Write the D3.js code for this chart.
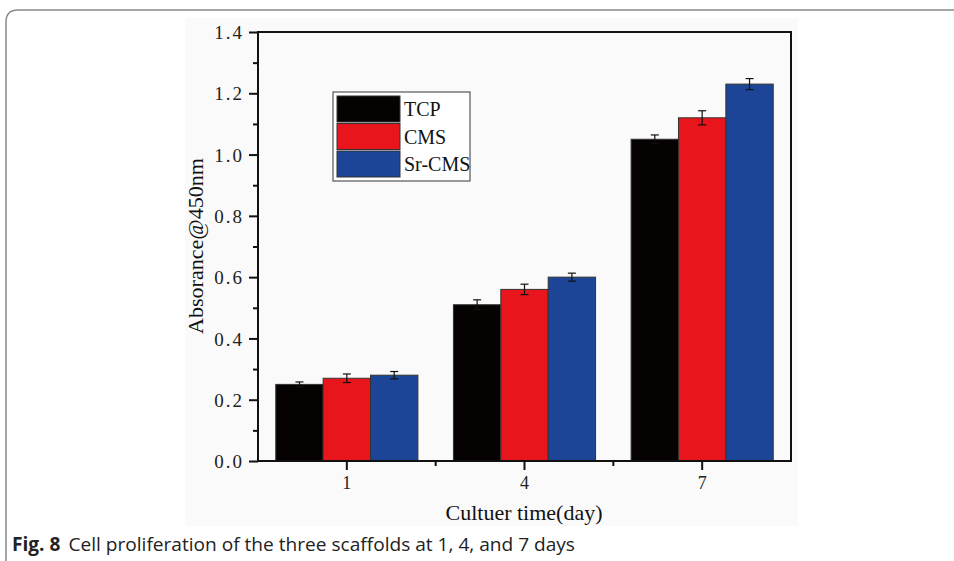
<!doctype html>
<html lang="en">
<head>
<meta charset="utf-8" />
<title>Cell proliferation</title>
<style>
  html, body { margin: 0; padding: 0; background: #fff; }
  svg { display: block; }
  .tick-y { font: 19px "Liberation Serif", serif; letter-spacing: 2px; fill: #222; }
  .tick-x { font: 18px "Liberation Serif", serif; fill: #222; }
  .title { font: 22px "Liberation Serif", serif; fill: #111; }
  .legend text { font: 20px "Liberation Serif", serif; fill: #111; }
  .caption { font: 19px "Open Sans", sans-serif; fill: #222; }
</style>
</head>
<body>
<svg id="chart" width="954" height="561"></svg>
<script src="https://cdn.jsdelivr.net/npm/d3@7/dist/d3.min.js"></script>
<script>
const days = ['1', '4', '7'];
const series = ['TCP', 'CMS', 'Sr-CMS'];
const colors = ['#060202', '#e8161c', '#1c4597'];
const tcp = [0.25, 0.51, 1.05];
const cms = [0.27, 0.56, 1.12];
const srcms = [0.28, 0.60, 1.23];
const tcpErr = [0.008, 0.016, 0.014];
const cmsErr = [0.014, 0.017, 0.023];
const srcmsErr = [0.012, 0.013, 0.018];
const yTicks = [0, 0.2, 0.4, 0.6, 0.8, 1.0, 1.2, 1.4];

const values = [tcp, cms, srcms];
const errors = [tcpErr, cmsErr, srcmsErr];

const svg = d3.select('#chart');

// card frame
svg.append('path')
  .attr('d', 'M6,561 L6,22 Q6,10 18,10 L954,10')
  .attr('fill', 'none').attr('stroke', '#8a8a8a').attr('stroke-width', 1.5);

// figure background (scanned image area)
svg.append('rect').attr('x', 185).attr('y', 18).attr('width', 613).attr('height', 508).attr('fill', '#fafafa');

const x0 = d3.scaleBand().domain(days).range([258, 791]).paddingInner(0.2).paddingOuter(0.1);
const x1 = d3.scaleBand().domain(series).range([0, x0.bandwidth()]);
const y = d3.scaleLinear().domain([0, 1.4]).range([461, 32]);

// bars
const rows = [];
days.forEach((d, i) => series.forEach((s, j) => rows.push({ day: d, s, j, v: values[j][i], e: errors[j][i] })));

svg.append('g').selectAll('rect').data(rows).join('rect')
  .attr('x', d => x0(d.day) + x1(d.s))
  .attr('y', d => y(d.v))
  .attr('width', x1.bandwidth())
  .attr('height', d => y(0) - y(d.v))
  .attr('fill', d => colors[d.j])
  .attr('stroke', '#333').attr('stroke-width', 1);

// error bars
const eb = svg.append('g').attr('stroke', '#111').attr('stroke-width', 1.2);
rows.forEach(d => {
  const cx = x0(d.day) + x1(d.s) + x1.bandwidth() / 2;
  eb.append('line').attr('x1', cx).attr('x2', cx).attr('y1', y(d.v + d.e)).attr('y2', y(d.v - d.e));
  eb.append('line').attr('x1', cx - 4).attr('x2', cx + 4).attr('y1', y(d.v + d.e)).attr('y2', y(d.v + d.e));
  eb.append('line').attr('x1', cx - 4).attr('x2', cx + 4).attr('y1', y(d.v - d.e)).attr('y2', y(d.v - d.e));
});

// frame
svg.append('rect').attr('x', 258).attr('y', 32).attr('width', 533).attr('height', 429)
  .attr('fill', 'none').attr('stroke', '#111').attr('stroke-width', 2);

// y axis
const yAxis = svg.append('g').attr('transform', 'translate(258,0)')
  .call(d3.axisLeft(y).tickValues(yTicks).tickFormat(d3.format('.1f')).tickSize(9).tickPadding(5));
yAxis.select('.domain').remove();
yAxis.selectAll('line').attr('stroke', '#111').attr('stroke-width', 2);
yAxis.selectAll('text').attr('class', 'tick-y').attr('dy', '0.35em');
const yMinor = svg.append('g').attr('transform', 'translate(258,0)')
  .call(d3.axisLeft(y).tickValues([0.1, 0.3, 0.5, 0.7, 0.9, 1.1, 1.3]).tickSize(5).tickFormat(''));
yMinor.select('.domain').remove();
yMinor.selectAll('line').attr('stroke', '#111').attr('stroke-width', 2);

// x axis
const xAxis = svg.append('g').attr('transform', 'translate(0,461)')
  .call(d3.axisBottom(x0).tickSize(9).tickPadding(6));
xAxis.select('.domain').remove();
xAxis.selectAll('line').attr('stroke', '#111').attr('stroke-width', 2);
xAxis.selectAll('text').attr('class', 'tick-x');
const step = x0.step();
svg.append('g').selectAll('line').data(days.slice(1)).join('line')
  .attr('x1', d => x0(d) - step * 0.1).attr('x2', d => x0(d) - step * 0.1)
  .attr('y1', 461).attr('y2', 466).attr('stroke', '#111').attr('stroke-width', 2);

// titles
svg.append('text').attr('class', 'title').attr('x', 524).attr('y', 520).attr('text-anchor', 'middle')
  .text('Cultuer time(day)');
svg.append('text').attr('class', 'title').attr('transform', 'translate(203,246) rotate(-90)')
  .attr('text-anchor', 'middle').attr('textLength', 176).attr('lengthAdjust', 'spacingAndGlyphs')
  .text('Absorance@450nm');

// legend
const lg = svg.append('g').attr('class', 'legend');
lg.append('rect').attr('x', 333).attr('y', 92).attr('width', 137).attr('height', 89)
  .attr('fill', '#fff').attr('stroke', '#555').attr('stroke-width', 1.2);
series.forEach((s, j) => {
  lg.append('rect').attr('x', 337).attr('y', 96 + j * 27.5).attr('width', 63).attr('height', 26)
    .attr('fill', colors[j]).attr('stroke', '#333').attr('stroke-width', 1);
  lg.append('text').attr('x', 404).attr('y', 116 + j * 27.5).text(s);
});

// caption
const cap = svg.append('text').attr('class', 'caption').attr('x', 12).attr('y', 551)
  .attr('textLength', 563).attr('lengthAdjust', 'spacingAndGlyphs');
cap.append('tspan').attr('font-weight', 700).text('Fig. 8');
cap.append('tspan').attr('dx', 8).text('Cell proliferation of the three scaffolds at 1, 4, and 7 days');
</script>
</body>
</html>
